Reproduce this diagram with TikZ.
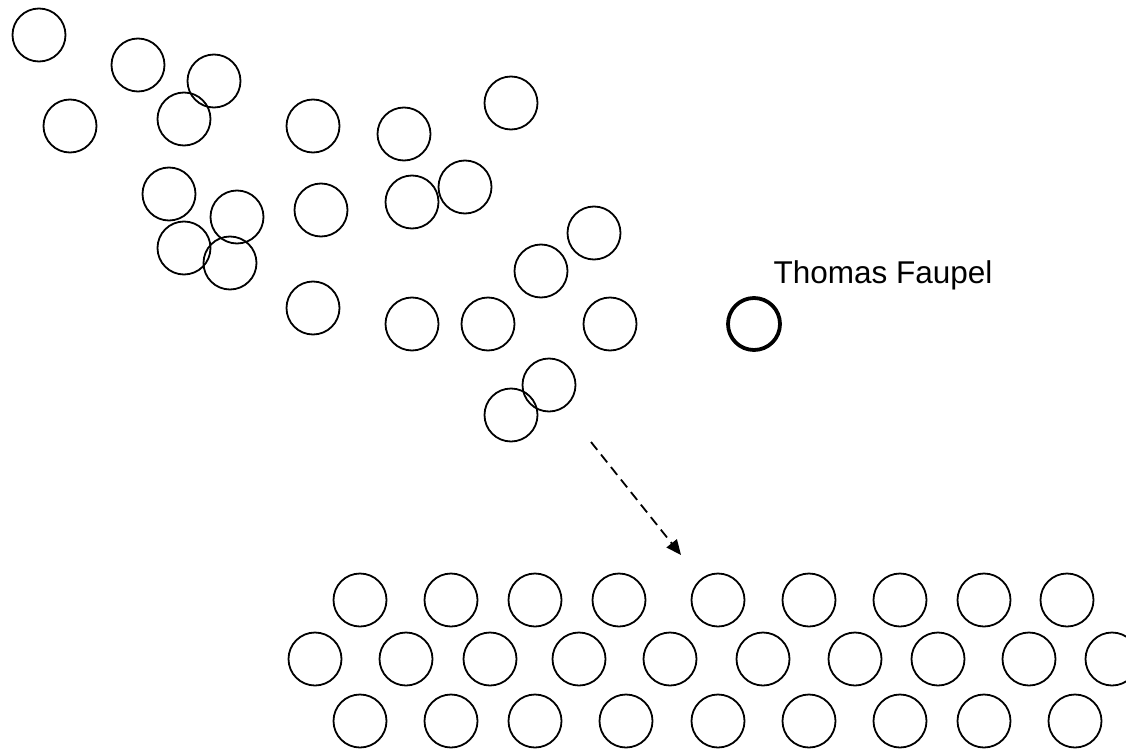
\documentclass[tikz,border=0pt]{standalone}
\usepackage{fontspec}
\setmainfont{Liberation Sans}
\usetikzlibrary{arrows.meta}
\tikzset{
  ball/.style={circle, draw, line width=1.8pt, minimum size=53pt, inner sep=0pt},
  thickball/.style={ball, line width=3.8pt, minimum size=52pt},
  lbl/.style={anchor=base west, font=\fontsize{31.5}{36}\selectfont},
  flow/.style={line width=1.8pt, dash pattern=on 10pt off 6pt, -{Triangle[length=15pt,width=13pt]}}
}
\begin{document}
\begin{tikzpicture}[x=1pt,y=-1pt]
\clip (0,0) rectangle (1126,749);
\fill[white] (0,0) rectangle (1126,749);
% scattered particles
\foreach \n/\px/\py in {a1/39/35, a2/138/65, a3/214/81, a4/70/126, a5/184/119,
  a6/313/126, a7/404/134, a8/511/103, a9/169/194, a10/237/217, a11/321/210,
  a12/412/202, a13/465/187, a14/594/233, a15/541/271, a16/184/248, a17/230/263,
  a18/313/308, a19/412/324, a20/488/324, a21/610/324, a22/549/385, a23/511/415}
  \node[ball] (\n) at (\px,\py) {};
% highlighted particle
\node[thickball] (tf) at (754,324) {};
\node[lbl] (tflabel) at (770,283) {Thomas Faupel};
% ordered lattice
\foreach \n/\px in {1/360, 2/451, 3/535, 4/619, 5/718, 6/809, 7/900, 8/984, 9/1067}
  \node[ball] (r1c\n) at (\px,600) {};
\foreach \n/\px in {1/315, 2/406, 3/490, 4/579, 5/670, 6/763, 7/855, 8/938, 9/1029, 10/1112}
  \node[ball] (r2c\n) at (\px,659) {};
\foreach \n/\px in {1/360, 2/451, 3/535, 4/626, 5/718, 6/809, 7/900, 8/984, 9/1075}
  \node[ball] (r3c\n) at (\px,721) {};
% arrow
\coordinate (arrowstart) at (591,442);
\coordinate (arrowend) at (681,555);
\draw[flow] (arrowstart) -- (arrowend);
\end{tikzpicture}
\end{document}
